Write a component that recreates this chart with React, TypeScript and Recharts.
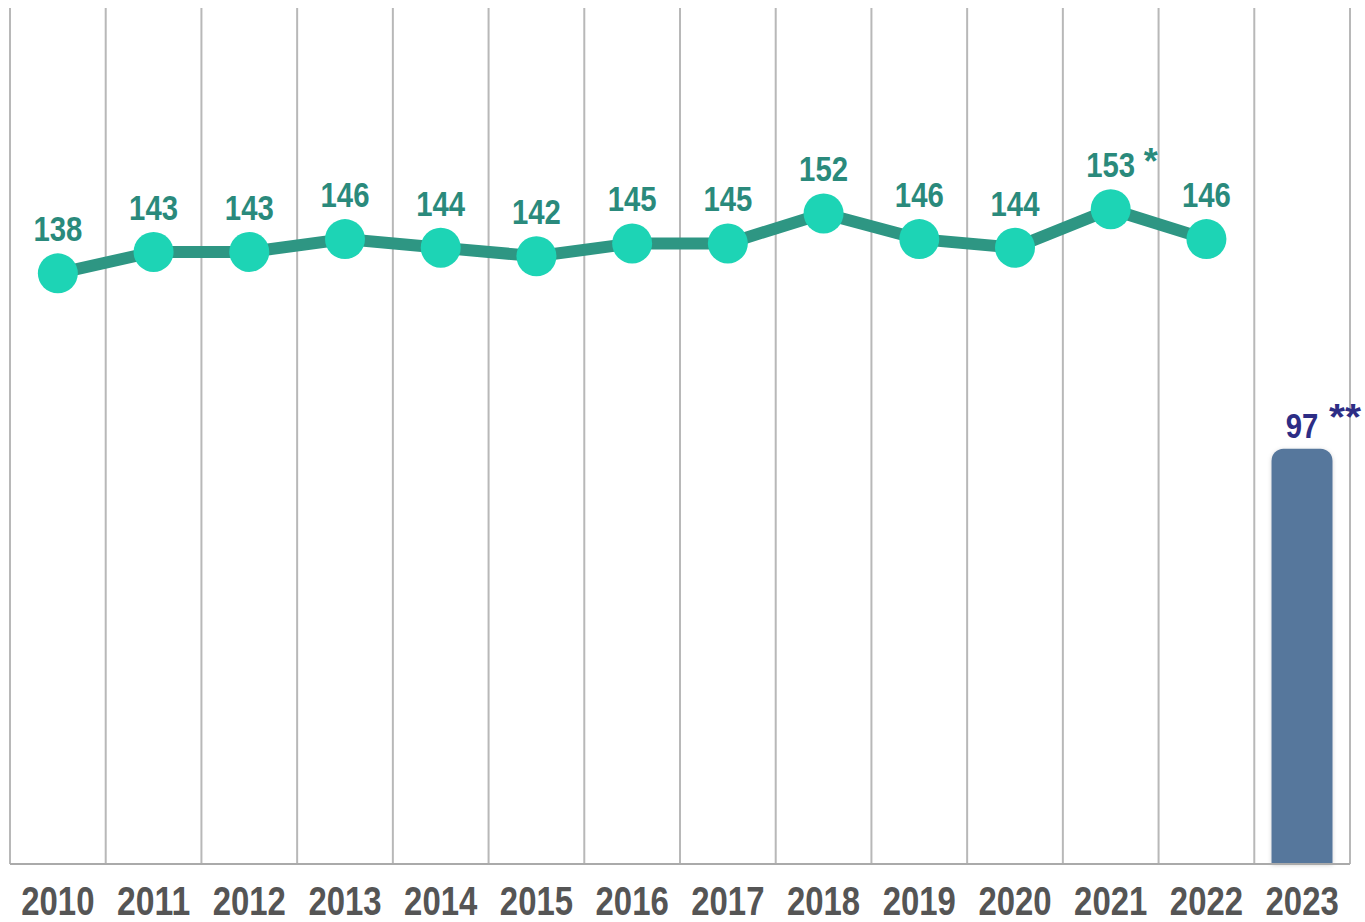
import React from "react";
import { ComposedChart, Line, Bar, XAxis, YAxis, CartesianGrid, LabelList } from "recharts";

const years = ["2010", "2011", "2012", "2013", "2014", "2015", "2016", "2017", "2018", "2019", "2020", "2021", "2022", "2023"];
const lineValues: (number | null)[] = [138, 143, 143, 146, 144, 142, 145, 145, 152, 146, 144, 153, 146, null];
const barValues: (number | null)[] = [null, null, null, null, null, null, null, null, null, null, null, null, null, 97];
const lineNotes: (string | null)[] = [null, null, null, null, null, null, null, null, null, null, null, "*", null, null];
const barNotes: (string | null)[] = [null, null, null, null, null, null, null, null, null, null, null, null, null, "**"];

const data = years.map((y, i) => ({
  year: y,
  line: lineValues[i],
  bar: barValues[i],
  lineNote: lineNotes[i],
  barNote: barNotes[i],
}));

const FONT = "'Liberation Sans', Arial, sans-serif";
const W = 1357;
const H = 914;
const M = { top: 0, right: 15, left: 2, bottom: 0 };
const DIGIT_W = 16.3;
const TICK_DIGIT_W = 18.3;

const LineLabel = (props: any) => {
  const { x, y, value } = props;
  if (value == null) return null;
  const s = String(value);
  return (
    <text
      x={x}
      y={y - 32}
      textAnchor="middle"
      fill="#2a8a7c"
      fontFamily={FONT}
      fontWeight="bold"
      fontSize={35}
      textLength={s.length * DIGIT_W}
      lengthAdjust="spacingAndGlyphs"
    >
      {s}
    </text>
  );
};

const LineNote = (props: any) => {
  const { x, y, value } = props;
  if (!value) return null;
  return (
    <text x={x + 33} y={y - 35} textAnchor="start" fill="#2a8a7c" fontFamily={FONT} fontWeight="bold" fontSize={36}>
      {value}
    </text>
  );
};

const BarLabel = (props: any) => {
  const { x, y, width, value } = props;
  if (value == null) return null;
  const s = String(value);
  return (
    <text
      x={x + width / 2}
      y={y - 11}
      textAnchor="middle"
      fill="#2d2d85"
      fontFamily={FONT}
      fontWeight="bold"
      fontSize={35}
      textLength={s.length * DIGIT_W}
      lengthAdjust="spacingAndGlyphs"
    >
      {s}
    </text>
  );
};

const BarNote = (props: any) => {
  const { x, y, width, value } = props;
  if (!value) return null;
  return (
    <text
      x={x + width / 2 + 27}
      y={y - 19}
      textAnchor="start"
      fill="#2d2d85"
      fontFamily={FONT}
      fontWeight="bold"
      fontSize={36}
      textLength={32}
      lengthAdjust="spacingAndGlyphs"
    >
      {value}
    </text>
  );
};

const Tick = (props: any) => {
  const { x, y, payload } = props;
  const s = String(payload.value);
  return (
    <text
      x={x}
      y={y}
      dy={43}
      textAnchor="middle"
      fill="#555555"
      fontFamily={FONT}
      fontWeight="bold"
      fontSize={40}
      textLength={s.length * TICK_DIGIT_W}
      lengthAdjust="spacingAndGlyphs"
    >
      {s}
    </text>
  );
};

export default function App() {
  const vGen = ({ offset }: any) => {
    const n = years.length;
    const out: number[] = [];
    for (let i = 0; i <= n; i++) out.push(offset.left + (offset.width * i) / n);
    return out;
  };
  return (
    <div style={{ position: "absolute", left: 8, top: 8, width: W, height: H, overflow: "hidden" }}>
      <svg width={0} height={0} style={{ position: "absolute" }}>
        <defs>
          <filter id="barShadow" x="-30%" y="-10%" width="160%" height="130%">
            <feDropShadow dx="0" dy="1" stdDeviation="2" floodColor="#000" floodOpacity="0.18" />
          </filter>
        </defs>
      </svg>
      <ComposedChart width={W} height={H} data={data} margin={M} barCategoryGap="18%">
        <CartesianGrid
          horizontal={false}
          vertical={true}
          stroke="#b8b8b8"
          strokeWidth={2}
          verticalCoordinatesGenerator={vGen}
        />
        <XAxis
          dataKey="year"
          axisLine={{ stroke: "#aaaaaa", strokeWidth: 2 }}
          tickLine={false}
          tick={<Tick />}
          height={58}
          interval={0}
        />
        <YAxis hide domain={[0, 200]} />
        <Bar dataKey="bar" fill="#56779c" radius={[12, 12, 0, 0]} isAnimationActive={false} style={{ filter: "url(#barShadow)" }}>
          <LabelList dataKey="bar" content={<BarLabel />} />
          <LabelList dataKey="barNote" content={<BarNote />} />
        </Bar>
        <Line
          dataKey="line"
          stroke="#2e9683"
          strokeWidth={12}
          dot={{ r: 20, fill: "#1dd4b5", stroke: "none" }}
          activeDot={false}
          isAnimationActive={false}
          connectNulls={false}
        >
          <LabelList dataKey="line" content={<LineLabel />} />
          <LabelList dataKey="lineNote" content={<LineNote />} />
        </Line>
      </ComposedChart>
    </div>
  );
}
